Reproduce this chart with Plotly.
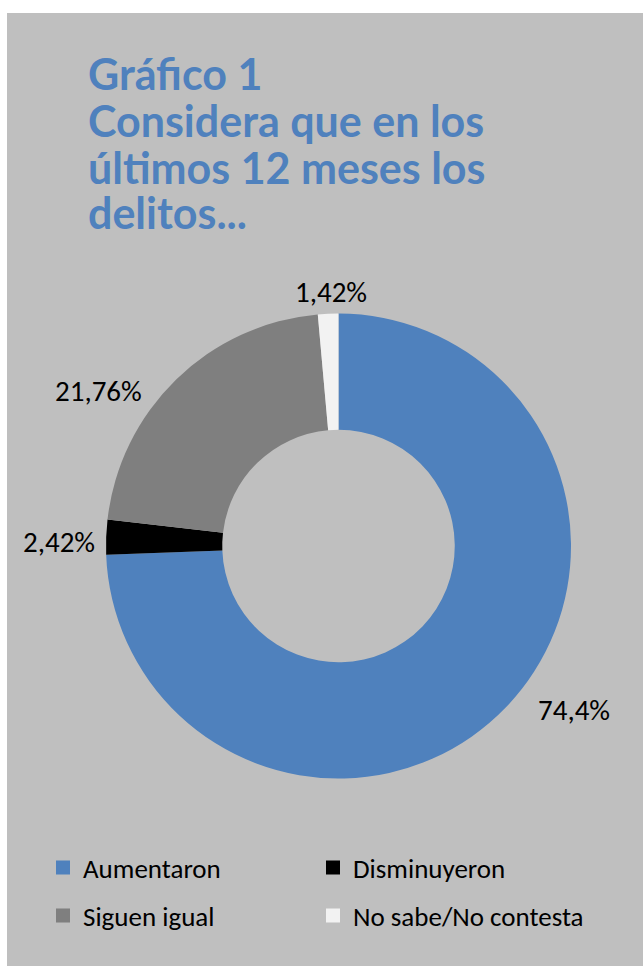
import plotly.graph_objects as go

# Survey answers: perception of crime over the last 12 months
categories = ["Aumentaron", "Disminuyeron", "Siguen igual", "No sabe/No contesta"]
shares = [74.4, 2.42, 21.76, 1.42]
slice_colors = ["#4F81BD", "#000000", "#7F7F7F", "#F2F2F2"]
title_lines = ["Gráfico 1", "Considera que en los", "últimos 12 meses los", "delitos..."]

W, H = 643, 967
BG = "#BFBFBF"
TEXT_FONT = "Carlito, Calibri, Lato, sans-serif"

def px_x(x):
    return x / W

def px_y(y):
    return 1 - y / H

fig = go.Figure(
    go.Pie(
        labels=categories,
        values=shares,
        marker=dict(colors=slice_colors, line=dict(width=0)),
        hole=0.5,
        sort=False,
        direction="clockwise",
        rotation=0,
        textinfo="none",
        hoverinfo="label+percent",
        showlegend=False,
        domain=dict(x=[px_x(106), px_x(571)], y=[px_y(779), px_y(313)]),
    )
)

# legend entries in two rows (two categories per row)
for i, (cat, col) in enumerate(zip(categories, slice_colors)):
    fig.add_trace(go.Scatter(
        x=[None], y=[None], mode="markers", name=cat,
        marker=dict(symbol="square", size=14, color=col),
        legend="legend" if i < 2 else "legend2",
        hoverinfo="skip",
    ))

# percentage labels placed around the ring
label_pos = [(574, 710), (59, 542), (99, 391), (331, 292)]
for v, (lx, ly) in zip(shares, label_pos):
    fig.add_annotation(
        x=px_x(lx), y=px_y(ly), xref="paper", yref="paper",
        text=f"{v:g}".replace(".", ",") + "%",
        showarrow=False, xanchor="center", yanchor="middle",
        font=dict(family=TEXT_FONT, size=29, color="#000000"),
    )

# chart title, one annotation per line for tight line spacing
title_centers = [74, 121, 167, 213]
for line, cy in zip(title_lines, title_centers):
    fig.add_annotation(
        x=px_x(86), y=px_y(cy), xref="paper", yref="paper",
        text=f"<b>{line}</b>",
        showarrow=False, xanchor="left", yanchor="middle", align="left",
        font=dict(family="Lato", size=43, color="#4F81BD"),
    )

legend_common = dict(
    orientation="h",
    x=px_x(43), xanchor="left", yanchor="middle",
    entrywidth=225, entrywidthmode="pixels",
    font=dict(family=TEXT_FONT, size=27, color="#000000"),
    bgcolor="rgba(0,0,0,0)",
    traceorder="normal",
)

fig.update_layout(
    width=W, height=H,
    margin=dict(l=0, r=0, t=0, b=0),
    paper_bgcolor="white",
    plot_bgcolor="rgba(0,0,0,0)",
    xaxis=dict(visible=False),
    yaxis=dict(visible=False),
    shapes=[dict(type="rect", xref="paper", yref="paper",
                 x0=px_x(7), x1=1, y0=px_y(966), y1=px_y(13),
                 fillcolor=BG, line=dict(width=0), layer="below")],
    showlegend=True,
    legend=dict(y=px_y(868), **legend_common),
    legend2=dict(y=px_y(916), **legend_common),
)

fig.write_html("out.html")
